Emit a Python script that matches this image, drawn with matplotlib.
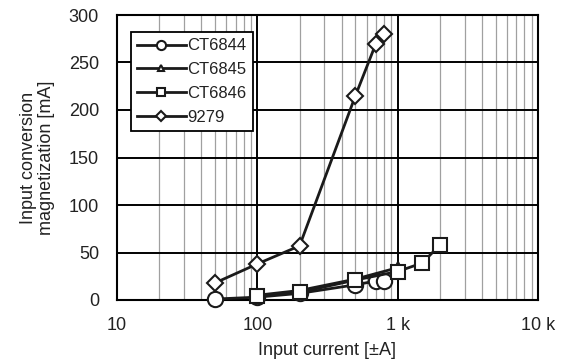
import matplotlib
matplotlib.use("Agg")
import matplotlib.pyplot as plt
from matplotlib.ticker import FixedLocator, LogLocator, NullFormatter

plt.rcParams['font.family'] = ['Liberation Sans', 'DejaVu Sans']

# Measured input conversion magnetization vs. input current
ct6844_x = [50, 100, 200, 500, 700, 800]
ct6844_y = [1, 3, 7, 16, 20, 20]

ct6845_x = [100, 200, 500, 1000]
ct6845_y = [5, 10, 22, 34]

ct6846_x = [100, 200, 500, 1000, 1500, 2000]
ct6846_y = [4, 8, 21, 30, 39, 58]

m9279_x = [50, 100, 200, 500, 700, 800]
m9279_y = [18, 38, 57, 215, 270, 280]

x_ticks = [10, 100, 1000, 10000]
x_tick_labels = ["10", "100", "1 k", "10 k"]
y_ticks = [0, 50, 100, 150, 200, 250, 300]

fig = plt.figure(figsize=(5.64, 3.62), dpi=100)
ax = fig.add_axes([117 / 564, 1 - 300 / 362, 421 / 564, 285 / 362])

ax.set_xscale('log')
ax.set_xlim(10, 10000)
ax.set_ylim(0, 300)

# grid: gray minor verticals, black decade verticals and horizontals
ax.xaxis.set_minor_locator(LogLocator(base=10, subs=range(2, 10)))
ax.xaxis.set_minor_formatter(NullFormatter())
ax.grid(which='minor', axis='x', color='#a0a0a0', linewidth=0.9)
ax.grid(which='major', axis='x', color='black', linewidth=1.4)
ax.grid(which='major', axis='y', color='black', linewidth=1.4)
ax.set_axisbelow(True)

ax.xaxis.set_major_locator(FixedLocator(x_ticks))
ax.set_xticks(x_ticks)
ax.set_xticklabels(x_tick_labels)
ax.set_yticks(y_ticks)
ax.tick_params(which='both', length=0, labelsize=13, colors='#222222')
ax.tick_params(axis='y', pad=13)
ax.tick_params(axis='x', pad=12)

for s in ax.spines.values():
    s.set_linewidth(1.5)
    s.set_color('black')

common = dict(color='#1a1a1a', linewidth=2.0, markerfacecolor='white',
              markeredgecolor='#1a1a1a', markeredgewidth=1.5, clip_on=False)

ax.plot(ct6844_x, ct6844_y, marker='o', markersize=11, label='CT6844', zorder=3, **common)
ax.plot(ct6845_x, ct6845_y, marker='^', markersize=8, label='CT6845', zorder=4, **common)
ax.plot(ct6846_x, ct6846_y, marker='s', markersize=9.5, label='CT6846', zorder=5, **common)
ax.plot(m9279_x, m9279_y, marker='D', markersize=8, label='9279', zorder=6, **common)

leg = ax.legend(loc='upper left', bbox_to_anchor=(0.033, 0.94), fontsize=12,
                handlelength=2.9, markerscale=0.6, frameon=True, fancybox=False,
                borderpad=0.38, labelspacing=0.53, handletextpad=0.12,
                borderaxespad=0.0)
leg.get_frame().set_edgecolor('black')
leg.get_frame().set_linewidth(1.3)
leg.get_frame().set_alpha(1)
for t in leg.get_texts():
    t.set_color('#222222')

ax.set_xlabel('Input current [\u00b1A]', fontsize=13, labelpad=6, color='#222222')
ax.set_ylabel('Input conversion\nmagnetization [mA]', fontsize=13, labelpad=10,
              linespacing=1.1, color='#222222')

fig.savefig('out.png', dpi=100)
